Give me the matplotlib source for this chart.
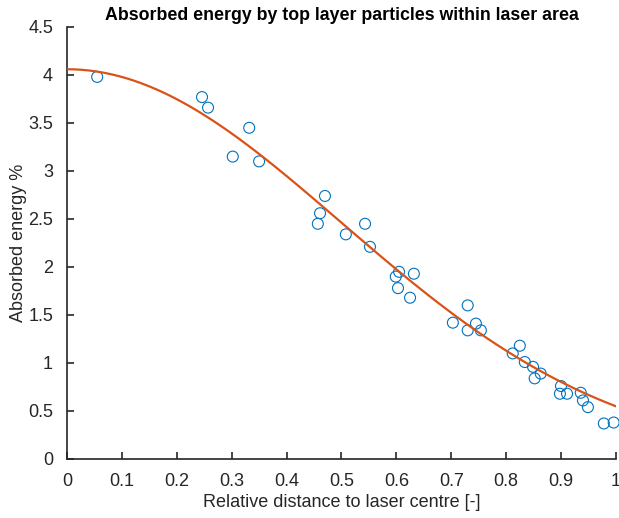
import numpy as np
import matplotlib.pyplot as plt

# Absorbed energy per particle vs. normalised distance from the laser centre
rel_dist = [0.055, 0.246, 0.257, 0.332, 0.302, 0.350, 0.470, 0.461, 0.457,
            0.508, 0.543, 0.552, 0.605, 0.599, 0.632, 0.603, 0.625, 0.730,
            0.703, 0.730, 0.745, 0.754, 0.825, 0.812, 0.834, 0.849, 0.852,
            0.863, 0.900, 0.898, 0.911, 0.936, 0.940, 0.949, 0.978, 0.996]
energy = [3.98, 3.77, 3.66, 3.45, 3.15, 3.10, 2.74, 2.56, 2.45,
          2.34, 2.45, 2.21, 1.95, 1.90, 1.93, 1.78, 1.68, 1.60,
          1.42, 1.34, 1.41, 1.34, 1.18, 1.10, 1.01, 0.96, 0.84,
          0.89, 0.76, 0.68, 0.68, 0.69, 0.61, 0.54, 0.37, 0.38]

# gauss1 fit: a*exp(-((x-b)/c)^2)
fit_a = 4.06
fit_b = 0.0
fit_c = 0.707

x_ticks = np.round(np.arange(0, 1.01, 0.1), 1)
y_ticks = np.round(np.arange(0, 4.51, 0.5), 1)

plt.rcParams['font.family'] = ['Liberation Sans', 'DejaVu Sans']
txt = '#262626'

fig = plt.figure(figsize=(6.19, 5.18), dpi=100)
ax = fig.add_axes([0.1082, 0.1139, 0.8868, 0.834])

ax.scatter(rel_dist, energy, s=62, facecolors='none', edgecolors='#0072BD',
           linewidths=0.8, zorder=2, clip_on=False)
x_fit = np.linspace(0, 1, 300)
y_fit = fit_a * np.exp(-((x_fit - fit_b) / fit_c) ** 2)
ax.plot(x_fit, y_fit, color='#D95319', linewidth=1.6, zorder=3)

ax.set_xlim(0, 1)
ax.set_ylim(0, 4.5)
ax.set_xticks(x_ticks)
ax.set_yticks(y_ticks)
ax.set_xticklabels(['%g' % v for v in x_ticks])
ax.set_yticklabels(['%g' % v for v in y_ticks])
ax.tick_params(direction='in', length=5, width=1.2, colors=txt,
               labelsize=13)
ax.tick_params(axis='x', pad=10)
ax.tick_params(axis='y', pad=10)
for side in ['top', 'right']:
    ax.spines[side].set_visible(False)
for side in ['left', 'bottom']:
    ax.spines[side].set_color(txt)
    ax.spines[side].set_linewidth(1.2)

ax.set_xlabel('Relative distance to laser centre [-]', fontsize=13,
              color=txt, labelpad=3)
ax.set_ylabel('Absorbed energy %', fontsize=13, color=txt, labelpad=0.5)
ax.set_title('Absorbed energy by top layer particles within laser area',
             fontsize=12.8, fontweight='bold', color='black', pad=5)

fig.savefig('out.png', dpi=100)
